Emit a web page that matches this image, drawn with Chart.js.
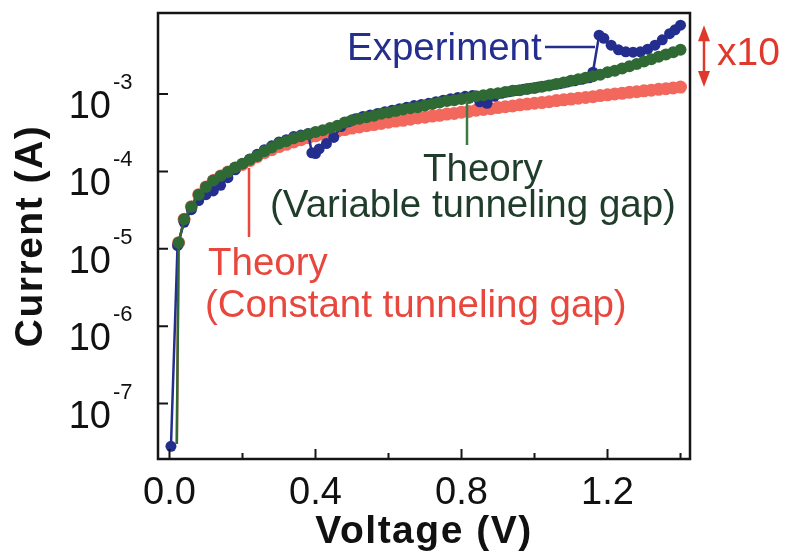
<!DOCTYPE html>
<html>
<head>
<meta charset="utf-8">
<script src="https://cdn.jsdelivr.net/npm/chart.js@4/dist/chart.umd.min.js"></script>
<style>
  html, body { margin: 0; padding: 0; background: #ffffff; }
  canvas { display: block; }
</style>
</head>
<body>
<canvas id="iv" width="790" height="554"></canvas>
<script>
// Bias voltage (V) shared by both theory curves
const theoryVoltage = [0.02, 0.025, 0.04, 0.06, 0.08, 0.10, 0.12, 0.14, 0.16, 0.18, 0.20, 0.22, 0.24, 0.26, 0.28, 0.30, 0.32, 0.34, 0.36, 0.38, 0.40, 0.42, 0.44, 0.46, 0.48, 0.50, 0.52, 0.54, 0.56, 0.58, 0.60, 0.62, 0.64, 0.66, 0.68, 0.70, 0.72, 0.74, 0.76, 0.78, 0.80, 0.82, 0.84, 0.86, 0.88, 0.90, 0.92, 0.94, 0.96, 0.98, 1.00, 1.02, 1.04, 1.06, 1.08, 1.10, 1.12, 1.14, 1.16, 1.18, 1.20, 1.22, 1.24, 1.26, 1.28, 1.30, 1.32, 1.34, 1.36, 1.38, 1.40];

// Theory, variable tunneling gap (A)
const variableGapCurrent = [3.0e-8, 1.2e-5, 2.4e-5, 3.5e-5, 5.0e-5, 6.3e-5, 7.6e-5, 8.7e-5, 9.8e-5, 1.12e-4, 1.26e-4, 1.41e-4, 1.58e-4, 1.82e-4, 2.04e-4, 2.29e-4, 2.45e-4, 2.69e-4, 2.85e-4, 3.02e-4, 3.24e-4, 3.39e-4, 3.63e-4, 3.89e-4, 4.27e-4, 4.57e-4, 4.79e-4, 5.01e-4, 5.25e-4, 5.56e-4, 5.75e-4, 6.03e-4, 6.31e-4, 6.53e-4, 6.76e-4, 7.08e-4, 7.41e-4, 7.76e-4, 8.13e-4, 8.32e-4, 8.61e-4, 8.91e-4, 9.33e-4, 9.66e-4, 1.0e-3, 1.02e-3, 1.06e-3, 1.10e-3, 1.12e-3, 1.16e-3, 1.20e-3, 1.24e-3, 1.29e-3, 1.35e-3, 1.41e-3, 1.48e-3, 1.55e-3, 1.62e-3, 1.70e-3, 1.78e-3, 1.91e-3, 2.0e-3, 2.14e-3, 2.29e-3, 2.45e-3, 2.63e-3, 2.82e-3, 3.02e-3, 3.24e-3, 3.47e-3, 3.72e-3];

// Theory, constant tunneling gap (A)
const constantGapCurrent = [3.0e-8, 1.2e-5, 2.4e-5, 3.5e-5, 5.0e-5, 6.3e-5, 7.6e-5, 8.7e-5, 9.8e-5, 1.10e-4, 1.23e-4, 1.38e-4, 1.55e-4, 1.74e-4, 1.91e-4, 2.09e-4, 2.24e-4, 2.40e-4, 2.57e-4, 2.72e-4, 2.88e-4, 3.02e-4, 3.16e-4, 3.31e-4, 3.47e-4, 3.63e-4, 3.76e-4, 3.89e-4, 4.03e-4, 4.17e-4, 4.32e-4, 4.47e-4, 4.57e-4, 4.73e-4, 4.90e-4, 5.01e-4, 5.19e-4, 5.31e-4, 5.50e-4, 5.62e-4, 5.82e-4, 5.96e-4, 6.17e-4, 6.31e-4, 6.46e-4, 6.68e-4, 6.84e-4, 7.00e-4, 7.24e-4, 7.41e-4, 7.59e-4, 7.76e-4, 7.94e-4, 8.22e-4, 8.41e-4, 8.61e-4, 8.81e-4, 9.02e-4, 9.23e-4, 9.55e-4, 9.77e-4, 1.0e-3, 1.02e-3, 1.05e-3, 1.07e-3, 1.10e-3, 1.12e-3, 1.15e-3, 1.17e-3, 1.20e-3, 1.23e-3];

// Measured sweep
const experimentVoltage = [0.004, 0.022, 0.04, 0.06, 0.08, 0.10, 0.12, 0.14, 0.16, 0.18, 0.20, 0.22, 0.24, 0.26, 0.28, 0.30, 0.32, 0.34, 0.36, 0.38, 0.39, 0.40, 0.41, 0.43, 0.45, 0.47, 0.49, 0.51, 0.53, 0.55, 0.57, 0.59, 0.61, 0.63, 0.65, 0.67, 0.69, 0.71, 0.73, 0.75, 0.77, 0.79, 0.81, 0.83, 0.85, 0.87, 0.89, 0.91, 0.93, 0.95, 0.97, 0.99, 1.01, 1.03, 1.05, 1.07, 1.09, 1.11, 1.13, 1.15, 1.16, 1.177, 1.19, 1.21, 1.23, 1.25, 1.27, 1.29, 1.31, 1.33, 1.35, 1.37, 1.385, 1.40];
const experimentCurrent = [2.8e-8, 1.1e-5, 2.2e-5, 3.2e-5, 4.2e-5, 5.0e-5, 5.6e-5, 6.6e-5, 8.3e-5, 1.05e-4, 1.26e-4, 1.45e-4, 1.66e-4, 1.91e-4, 2.14e-4, 2.40e-4, 2.57e-4, 2.82e-4, 2.95e-4, 3.09e-4, 1.74e-4, 1.70e-4, 1.95e-4, 2.29e-4, 2.75e-4, 3.80e-4, 4.37e-4, 4.79e-4, 5.13e-4, 5.37e-4, 5.62e-4, 5.89e-4, 6.17e-4, 6.46e-4, 6.76e-4, 7.08e-4, 7.33e-4, 7.59e-4, 7.94e-4, 8.32e-4, 8.71e-4, 9.02e-4, 9.33e-4, 9.55e-4, 7.94e-4, 7.59e-4, 9.33e-4, 1.02e-3, 1.07e-3, 1.11e-3, 1.15e-3, 1.19e-3, 1.23e-3, 1.27e-3, 1.32e-3, 1.36e-3, 1.43e-3, 1.48e-3, 1.55e-3, 1.62e-3, 1.91e-3, 5.75e-3, 5.25e-3, 4.27e-3, 3.72e-3, 3.51e-3, 3.47e-3, 3.51e-3, 3.80e-3, 4.27e-3, 5.01e-3, 6.03e-3, 6.76e-3, 7.76e-3];

// Axis ticks
const xMajorTicks = [0.0, 0.4, 0.8, 1.2];
const xMinorTicks = [0.2, 0.6, 1.0, 1.4];
const yDecades = [-3, -4, -5, -6, -7];

const FONT = '"Liberation Sans", Arial, Helvetica, sans-serif';
const RED = '#f2685d';
const RED_TEXT = '#e8473d';
const GREEN = '#2f6a35';
const GREEN_TEXT = '#1f3d2a';
const BLUE = '#242e8f';

const pts = (xs, ys) => xs.map((v, i) => ({ x: v, y: ys[i] }));
// theory curves start from the off-scale onset point without a marker
const theoryRadius = r => ctx => (ctx.dataIndex === 0 ? 0 : r);

const frameAndLabels = {
  id: 'frameAndLabels',
  afterDatasetsDraw(chart) {
    const { ctx, chartArea: a, scales: { x, y } } = chart;
    ctx.save();

    // plot frame
    ctx.strokeStyle = '#151515';
    ctx.lineWidth = 2.5;
    ctx.strokeRect(a.left, a.top, a.right - a.left, a.bottom - a.top);

    // inward ticks
    ctx.lineWidth = 2;
    ctx.beginPath();
    xMajorTicks.forEach(v => { const px = x.getPixelForValue(v); ctx.moveTo(px, a.bottom); ctx.lineTo(px, a.bottom - 10); });
    xMinorTicks.forEach(v => { const px = x.getPixelForValue(v); ctx.moveTo(px, a.bottom); ctx.lineTo(px, a.bottom - 6); });
    yDecades.forEach(e => { const py = y.getPixelForValue(Math.pow(10, e)); ctx.moveTo(a.left, py); ctx.lineTo(a.left + 10, py); });
    ctx.stroke();

    // x tick labels
    ctx.fillStyle = '#111';
    ctx.font = '38px ' + FONT;
    ctx.textAlign = 'center';
    ctx.textBaseline = 'alphabetic';
    xMajorTicks.forEach(v => ctx.fillText(v.toFixed(1), x.getPixelForValue(v), a.bottom + 45));

    // y tick labels: 10 with a raised exponent
    yDecades.forEach(e => {
      const py = y.getPixelForValue(Math.pow(10, e));
      ctx.font = '38px ' + FONT;
      ctx.textAlign = 'right';
      ctx.fillText('10', 111, py + 24);
      ctx.font = '22px ' + FONT;
      ctx.textAlign = 'left';
      ctx.fillText(String(e), 113, py - 5);
    });

    // axis titles
    ctx.font = 'bold 39px ' + FONT;
    ctx.letterSpacing = '1.5px';
    ctx.textAlign = 'center';
    ctx.fillText('Voltage (V)', (a.left + a.right) / 2, 543);
    ctx.save();
    ctx.translate(42, (a.top + a.bottom) / 2);
    ctx.rotate(-Math.PI / 2);
    ctx.fillText('Current (A)', 0, 0);
    ctx.restore();
    ctx.letterSpacing = '0px';

    // Experiment label with leader
    ctx.font = '38.5px ' + FONT;
    ctx.textAlign = 'left';
    ctx.fillStyle = BLUE;
    ctx.fillText('Experiment', 347, 60);
    ctx.strokeStyle = BLUE;
    ctx.lineWidth = 2.5;
    ctx.beginPath();
    ctx.moveTo(545, 47);
    ctx.lineTo(595, 47);
    ctx.stroke();

    // variable-gap theory label
    ctx.fillStyle = GREEN_TEXT;
    ctx.fillText('Theory', 423, 181);
    ctx.fillText('(Variable tunneling gap)', 270, 217);
    ctx.strokeStyle = '#3c7a44';
    ctx.beginPath();
    ctx.moveTo(467, 101);
    ctx.lineTo(467, 145);
    ctx.stroke();

    // constant-gap theory label
    ctx.fillStyle = RED_TEXT;
    ctx.fillText('Theory', 208, 275);
    ctx.fillText('(Constant tunneling gap)', 205, 317);
    ctx.strokeStyle = RED_TEXT;
    ctx.beginPath();
    ctx.moveTo(249, 168);
    ctx.lineTo(249, 237);
    ctx.stroke();

    // ratio arrow between measured and constant-gap currents at the last bias point
    const yTop = y.getPixelForValue(experimentCurrent[experimentCurrent.length - 1]);
    const yBot = y.getPixelForValue(constantGapCurrent[constantGapCurrent.length - 1]);
    const ax = 704;
    ctx.strokeStyle = '#e0392c';
    ctx.fillStyle = '#e0392c';
    ctx.lineWidth = 2.5;
    ctx.beginPath();
    ctx.moveTo(ax, yTop + 8);
    ctx.lineTo(ax, yBot - 8);
    ctx.stroke();
    ctx.beginPath();
    ctx.moveTo(ax, yTop); ctx.lineTo(ax - 6, yTop + 16); ctx.lineTo(ax + 6, yTop + 16); ctx.closePath();
    ctx.moveTo(ax, yBot); ctx.lineTo(ax - 6, yBot - 16); ctx.lineTo(ax + 6, yBot - 16); ctx.closePath();
    ctx.fill();
    ctx.font = '39px ' + FONT;
    ctx.fillText('x10', 717, 65);

    ctx.restore();
  }
};

new Chart(document.getElementById('iv'), {
  type: 'scatter',
  data: {
    datasets: [
      {
        label: 'Theory (Variable tunneling gap)',
        data: pts(theoryVoltage, variableGapCurrent),
        showLine: true,
        borderColor: GREEN,
        backgroundColor: GREEN,
        borderWidth: 2.5,
        pointRadius: theoryRadius(6),
        pointBorderWidth: 0,
        order: 1
      },
      {
        label: 'Experiment',
        data: pts(experimentVoltage, experimentCurrent),
        showLine: true,
        borderColor: BLUE,
        backgroundColor: BLUE,
        borderWidth: 2.5,
        pointRadius: 5.5,
        pointBorderWidth: 0,
        order: 2
      },
      {
        label: 'Theory (Constant tunneling gap)',
        data: pts(theoryVoltage, constantGapCurrent),
        showLine: true,
        borderColor: RED,
        backgroundColor: RED,
        borderWidth: 2.5,
        pointRadius: theoryRadius(6.5),
        pointBorderWidth: 0,
        order: 3
      }
    ]
  },
  options: {
    responsive: false,
    devicePixelRatio: 1,
    animation: false,
    layout: { padding: { left: 158, right: 100, top: 13, bottom: 95 } },
    plugins: { legend: { display: false }, tooltip: { enabled: false } },
    scales: {
      x: { type: 'linear', display: false, min: -0.0315, max: 1.426 },
      y: { type: 'logarithmic', display: false, min: 1.92e-8, max: 1.114e-2 }
    }
  },
  plugins: [frameAndLabels]
});
</script>
</body>
</html>
